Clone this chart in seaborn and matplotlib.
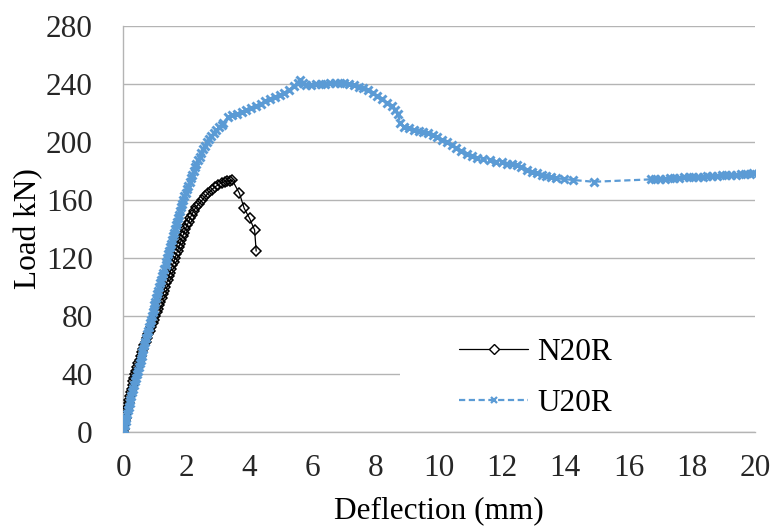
import matplotlib
matplotlib.use("Agg")
import matplotlib.pyplot as plt
from matplotlib.patches import Rectangle
import seaborn as sns
import pandas as pd

# N20R load-deflection record (deflection in mm, load in kN)
n20r_deflection = [
    0.00, 0.02, 0.04, 0.06, 0.08, 0.10, 0.125, 0.15, 0.17, 0.195, 0.22, 0.245,
    0.27, 0.30, 0.32, 0.35, 0.38, 0.41, 0.45, 0.48, 0.52, 0.56, 0.59, 0.63,
    0.67, 0.71, 0.75, 0.80, 0.84, 0.88, 0.93, 0.97, 1.02, 1.06, 1.10, 1.14,
    1.18, 1.22, 1.26, 1.29, 1.33, 1.37, 1.41, 1.44, 1.48, 1.52, 1.56, 1.60,
    1.64, 1.68, 1.72, 1.76, 1.80, 1.84, 1.88, 1.93, 1.97, 2.02, 2.07, 2.12,
    2.17, 2.23, 2.30, 2.40, 2.50, 2.60, 2.70, 2.80, 2.90, 3.01, 3.12, 3.21,
    3.30, 3.38, 3.45, 3.68, 3.83, 4.00, 4.16, 4.21,
]
n20r_load = [
    0.0, 2.5, 5.0, 7.5, 10.0, 12.5, 15.0, 17.5, 20.0, 22.5, 25.0, 27.5,
    30.0, 32.5, 35.0, 37.5, 40.0, 42.5, 45.0, 47.5, 50.0, 52.5, 55.0, 57.5,
    60.0, 62.5, 65.0, 67.5, 70.0, 72.5, 75.0, 77.5, 80.0, 82.5, 85.0, 87.5,
    90.0, 92.5, 95.0, 97.5, 100.0, 102.5, 105.0, 107.5, 110.0, 112.5, 115.0, 117.5,
    120.0, 122.5, 125.0, 127.5, 130.0, 132.5, 135.0, 137.5, 140.0, 142.5, 145.0, 147.5,
    150.0, 152.5, 155.0, 157.5, 160.0, 162.5, 165.0, 167.0, 169.0, 170.5, 172.0, 172.6,
    173.0, 173.4, 173.8, 164.6, 154.3, 147.4, 139.3, 124.8,
]

# U20R load-deflection record (deflection in mm, load in kN)
u20r_deflection = [
    0.00, 0.025, 0.05, 0.075, 0.10, 0.125, 0.15, 0.175, 0.20, 0.23, 0.255, 0.28,
    0.31, 0.34, 0.37, 0.40, 0.43, 0.46, 0.49, 0.52, 0.55, 0.58, 0.61, 0.64,
    0.67, 0.70, 0.73, 0.76, 0.79, 0.82, 0.845, 0.87, 0.90, 0.93, 0.96, 0.99,
    1.02, 1.05, 1.08, 1.11, 1.14, 1.17, 1.21, 1.24, 1.27, 1.30, 1.34, 1.37,
    1.40, 1.43, 1.46, 1.49, 1.52, 1.55, 1.59, 1.62, 1.65, 1.68, 1.71, 1.74,
    1.77, 1.80, 1.83, 1.87, 1.90, 1.94, 1.98, 2.02, 2.06, 2.10, 2.14, 2.19,
    2.23, 2.28, 2.32, 2.37, 2.42, 2.47, 2.53, 2.59, 2.65, 2.72, 2.79, 2.86,
    2.95, 3.04, 3.12, 3.17, 3.33, 3.45, 3.60, 3.75, 3.90, 4.05, 4.20, 4.35,
    4.50, 4.65, 4.80, 4.95, 5.10, 5.25, 5.40, 5.52, 5.60, 5.70, 5.80, 5.95,
    6.10, 6.25, 6.40, 6.55, 6.70, 6.85, 7.00, 7.15, 7.30, 7.45, 7.60, 7.75,
    7.90, 8.05, 8.20, 8.35, 8.50, 8.62, 8.70, 8.77, 8.90, 9.05, 9.20, 9.35,
    9.50, 9.65, 9.81, 9.95, 10.10, 10.24, 10.40, 10.55, 10.70, 10.87, 11.05, 11.20,
    11.40, 11.60, 11.80, 12.00, 12.15, 12.30, 12.46, 12.60, 12.80, 12.95, 13.10, 13.25,
    13.40, 13.55, 13.70, 13.95, 14.25, 14.90, 16.70, 16.85, 17.00, 17.15, 17.30, 17.45,
    17.60, 17.75, 17.90, 18.05, 18.20, 18.35, 18.50, 18.65, 18.80, 18.95, 19.10, 19.25,
    19.40, 19.55, 19.70, 19.85, 19.95,
]
u20r_load = [
    0.0, 2.5, 5.0, 7.5, 10.0, 12.5, 15.0, 17.5, 20.0, 22.5, 25.0, 27.5,
    30.0, 32.5, 35.0, 37.5, 40.0, 42.5, 45.0, 47.5, 50.0, 52.5, 55.0, 57.5,
    60.0, 62.5, 65.0, 67.5, 70.0, 72.5, 75.0, 77.5, 80.0, 82.5, 85.0, 87.5,
    90.0, 92.5, 95.0, 97.5, 100.0, 102.5, 105.0, 107.5, 110.0, 112.5, 115.0, 117.5,
    120.0, 122.5, 125.0, 127.5, 130.0, 132.5, 135.0, 137.5, 140.0, 142.5, 145.0, 147.5,
    150.0, 152.5, 155.0, 157.5, 160.0, 162.5, 165.0, 167.5, 170.0, 172.5, 175.0, 177.5,
    180.0, 182.5, 185.0, 187.5, 190.0, 192.5, 195.0, 197.5, 200.0, 202.0, 204.0, 206.0,
    208.0, 210.0, 212.0, 213.0, 217.5, 218.5, 219.5, 220.5, 222.0, 223.5, 225.0, 226.5,
    228.0, 229.5, 231.0, 232.5, 234.0, 236.0, 238.5, 241.0, 243.0, 240.5, 239.0, 239.5,
    240.0, 240.0, 240.3, 240.5, 240.5, 240.5, 240.5, 240.0, 239.0, 238.0, 237.0, 235.5,
    233.5, 231.5, 229.5, 227.0, 224.5, 222.0, 219.0, 213.0, 210.5, 209.5, 208.5, 207.5,
    207.0, 206.0, 205.0, 203.5, 201.5, 200.0, 198.0, 196.0, 194.0, 192.0, 190.5, 189.0,
    188.0, 187.5, 186.5, 186.0, 185.0, 184.5, 184.0, 182.5, 181.0, 179.5, 178.4, 177.5,
    176.5, 175.8, 175.0, 174.5, 173.8, 172.6, 174.2, 174.3, 174.5, 174.7, 175.0, 175.2,
    175.4, 175.6, 175.7, 175.9, 176.0, 176.2, 176.4, 176.6, 176.8, 177.0, 177.2, 177.3,
    177.5, 177.7, 178.0, 178.2, 178.4,
]

x_ticks = [0, 2, 4, 6, 8, 10, 12, 14, 16, 18, 20]
y_ticks = [0, 40, 80, 120, 160, 200, 240, 280]

sns.set_theme(style="white")
plt.rcParams["font.family"] = ["Liberation Serif", "DejaVu Serif"]

FS = 22.5
GRID = "#b4b4b4"
BLUE = "#5b9bd5"

fig = plt.figure(figsize=(7.75, 5.29), dpi=100)
ax = fig.add_axes([0.159, 0.183, 0.815, 0.768])

n20r = pd.DataFrame({"Deflection": n20r_deflection, "Load": n20r_load})
u20r = pd.DataFrame({"Deflection": u20r_deflection, "Load": u20r_load})

sns.lineplot(data=n20r, x="Deflection", y="Load", ax=ax, sort=False,
             estimator=None, color="black", linewidth=0.9,
             marker="D", markersize=5.6, markerfacecolor="none",
             markeredgecolor="black", markeredgewidth=1.1,
             label="N20R", zorder=3)
sns.lineplot(data=u20r, x="Deflection", y="Load", ax=ax, sort=False,
             estimator=None, color=BLUE, linewidth=1.6,
             linestyle=(0, (2.8, 1.6)),
             marker="x", markersize=6.3, markeredgecolor=BLUE,
             markeredgewidth=2.1, label="U20R", zorder=4)

ax.set_xlim(0, 20)
ax.set_ylim(0, 280)
ax.set_xticks(x_ticks)
ax.set_yticks(y_ticks)
ax.set_xticklabels([str(t) for t in x_ticks], fontsize=FS)
ax.set_yticklabels([str(t) for t in y_ticks], fontsize=FS)
ax.tick_params(axis="x", length=0, pad=16)
ax.tick_params(axis="y", length=0, pad=22)

ax.yaxis.grid(True, color=GRID, linewidth=1.0)
ax.xaxis.grid(False)
ax.set_axisbelow(True)

for side in ("top", "right"):
    ax.spines[side].set_visible(False)
for side in ("left", "bottom"):
    ax.spines[side].set_color(GRID)
    ax.spines[side].set_linewidth(1.0)

ax.set_xlabel("Deflection (mm)", fontsize=FS, labelpad=9, color="black")
ax.set_ylabel("Load kN)", fontsize=FS, labelpad=2, color="black")

# white legend panel that hides the gridline behind the key
ax.add_patch(Rectangle((0.438, 0.02), 0.562, 0.235, transform=ax.transAxes,
                       facecolor="white", edgecolor="none", zorder=1.5))

leg = ax.legend(loc="upper left", bbox_to_anchor=(0.532, 0.232),
                frameon=False, fontsize=FS, handlelength=2.2,
                handletextpad=0.3, labelspacing=0.7, borderpad=0,
                borderaxespad=0)
for t in leg.get_texts():
    t.set_color("black")
# legend key markers shown with a white interior
leg.legend_handles[0].set_markerfacecolor("white")
leg.legend_handles[0].set_markersize(5.2)
leg.legend_handles[0].set_markeredgewidth(1.0)
leg.legend_handles[1].set_markersize(5)
leg.legend_handles[1].set_markeredgewidth(1.6)

fig.savefig("out.png", dpi=100, facecolor="white")
